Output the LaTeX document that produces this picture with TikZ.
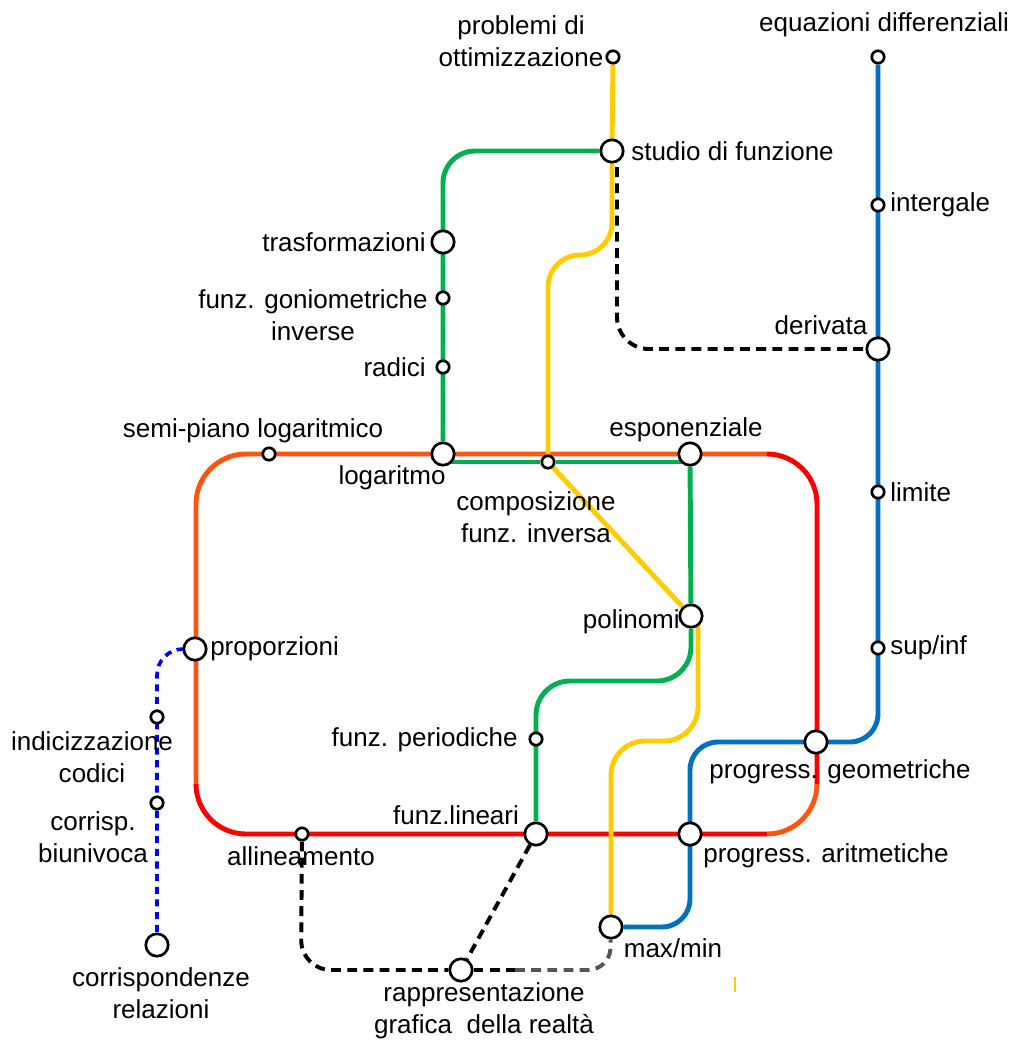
\documentclass[tikz,border=0pt]{standalone}
\usepackage{fontspec}
\setmainfont{Liberation Sans}
\usetikzlibrary{calc}
\usetikzlibrary{backgrounds}
\definecolor{lineorange}{RGB}{255,85,17}
\definecolor{linered}{RGB}{255,0,0}
\definecolor{linegreen}{RGB}{0,176,80}
\definecolor{lineyellow}{RGB}{255,204,0}
\definecolor{lineblue}{RGB}{0,112,192}
\definecolor{dotblue}{RGB}{0,0,255}
\definecolor{linkgray}{RGB}{85,85,85}

\begin{document}
\begin{tikzpicture}[x=0.025cm, y=-0.025cm]
            \tikzstyle{metro line} = [line width=3.5pt]
            \tikzstyle{transfer} = [line width=2.8pt, dash pattern=on 7pt off 4.5pt]
            \tikzstyle{big stop} = [circle, draw=black, fill=white, line width=1.9pt, minimum size=0.56cm, inner sep=0pt]
            \tikzstyle{small stop} = [circle, draw=black, fill=white, line width=1.9pt, minimum size=0.31cm, inner sep=0pt]
            \tikzstyle{stop label} = [font=\fontsize{18.5}{22.5}\selectfont, inner sep=0pt, align=center]

            \useasboundingbox (0,0) rectangle (1020,1042);

            \node[small stop] (ottim) at (613,57) {};
            \node[small stop] (eqdiff) at (878,57) {};
            \node[big stop] (studio) at (612,151) {};
            \node[small stop] (integr) at (878,205) {};
            \node[big stop] (trasf) at (443,242) {};
            \node[small stop] (gonio) at (443,298) {};
            \node[small stop] (radici) at (443,367) {};
            \node[big stop] (deriv) at (878,349) {};
            \node[small stop] (semipiano) at (269,454) {};
            \node[big stop] (logar) at (443,454) {};
            \node[small stop] (compos) at (548,462) {};
            \node[big stop] (espon) at (690,454) {};
            \node[small stop] (limite) at (878,492) {};
            \node[big stop] (polin) at (691,616) {};
            \node[small stop] (supinf) at (878,648) {};
            \node[big stop] (propor) at (195,649) {};
            \node[small stop] (indic) at (157,717) {};
            \node[small stop] (period) at (536,739) {};
            \node[big stop] (geom) at (816,742) {};
            \node[small stop] (corrisp) at (157,803) {};
            \node[small stop] (allin) at (302,834) {};
            \node[big stop] (lineari) at (536,834) {};
            \node[big stop] (aritm) at (690,834) {};
            \node[big stop] (corrrel) at (157,945) {};
            \node[big stop] (rappr) at (461,970) {};
            \node[big stop] (maxmin) at (611,927) {};

            \begin{pgfonlayer}{background}
            \draw[metro line, lineorange, rounded corners=1.25cm] (767,454) -- (196,454) -- (196,785);
            \draw[metro line, linered, rounded corners=1.25cm] (767,454) -- (817,454) -- (817,785);
            \draw[metro line, linered, rounded corners=1.25cm] (196,785) -- (196,834) -- (767,834);
            \draw[metro line, lineorange, rounded corners=1.25cm] (767,834) -- (817,834) -- (817,785);

            \draw[metro line, linegreen, rounded corners=0.8cm] (studio) -- (443,151) -- (logar);
            \draw[metro line, linegreen] ($(logar)+(0,8)$) -- (compos) -- ($(espon)+(0,8)$);
            \draw[metro line, linegreen] (espon) -- (polin);
            \draw[metro line, linegreen, rounded corners=0.85cm] (polin) -- (691,681) -- (536,681) -- (lineari);

            \draw[metro line, lineyellow] (ottim) -- (studio);
            \draw[metro line, lineyellow, rounded corners=0.8cm] (studio) -- (612,255) -- (548,255) -- (compos);
            \draw[metro line, lineyellow] (compos) -- (polin);
            \draw[metro line, lineyellow, rounded corners=0.85cm] ($(polin)+(7,0)$) -- (698,741) -- (611,741) -- (maxmin);

            \draw[metro line, lineblue, rounded corners=0.7cm] (eqdiff) -- (878,742) -- (690,742) -- (690,927) -- (maxmin);

            \draw[transfer, black, rounded corners=0.8cm] ($(studio)+(5,0)$) -- (617,349) -- (deriv);
            \draw[transfer, black, rounded corners=0.75cm] (allin) -- (301,970) -- (rappr);
            \draw[transfer, black] (lineari) -- (rappr);
            \draw[transfer, black] (rappr) -- (515,970);
            \draw[transfer, linkgray, rounded corners=0.55cm] (515,970) -- (610,970) -- (maxmin);
            \draw[line width=2.6pt, dotblue, dash pattern=on 5pt off 4pt, rounded corners=0.65cm] (propor) -- (157,649) -- (corrrel);

            \draw[lineyellow, line width=2pt] (735,977) -- (735,992);
            \end{pgfonlayer}

            \node[stop label] (ottim label) at ($(ottim) + (-92,-16)$) {problemi di\\ottimizzazione};
            \node[stop label] (eqdiff label) at ($(eqdiff) + (6,-32)$) {equazioni differenziali};
            \node[stop label, anchor=west] (studio label) at ($(studio) + (19,0)$) {studio di funzione};
            \node[stop label, anchor=west] (integr label) at ($(integr) + (12,0)$) {intergale};
            \node[stop label, anchor=east] (trasf label) at ($(trasf) + (-17,0)$) {trasformazioni};
            \node[stop label] (gonio label) at ($(gonio) + (-130,17)$) {funz. goniometriche\\inverse};
            \node[stop label, anchor=east] (radici label) at ($(radici) + (-17,0)$) {radici};
            \node[stop label] (deriv label) at ($(deriv) + (-57,-24)$) {derivata};
            \node[stop label] (semipiano label) at ($(semipiano) + (-16,-23)$) {semi-piano logaritmico};
            \node[stop label] (logar label) at ($(logar) + (-51,24)$) {logaritmo};
            \node[stop label] (compos label) at ($(compos) + (-12,55)$) {composizione\\funz. inversa};
            \node[stop label] (espon label) at ($(espon) + (-4,-24)$) {esponenziale};
            \node[stop label, anchor=west] (limite label) at ($(limite) + (12,0)$) {limite};
            \node[stop label, anchor=east] (polin label) at ($(polin) + (-11,6)$) {polinomi};
            \node[stop label, anchor=west] (supinf label) at ($(supinf) + (12,0)$) {sup/inf};
            \node[stop label, anchor=west] (propor label) at ($(propor) + (15,0)$) {proporzioni};
            \node[stop label] (indic label) at ($(indic) + (-65,40)$) {indicizzazione\\codici};
            \node[stop label, anchor=east] (period label) at ($(period) + (-18,1)$) {funz. periodiche};
            \node[stop label] (geom label) at ($(geom) + (24,30)$) {progress. geometriche};
            \node[stop label] (corrisp label) at ($(corrisp) + (-64,34)$) {corrisp.\\biunivoca};
            \node[stop label] (allin label) at ($(allin) + (-1,22)$) {allineamento};
            \node[stop label] (lineari label) at ($(lineari) + (-80,-19)$) {funz.lineari};
            \node[stop label] (aritm label) at ($(aritm) + (136,22)$) {progress. aritmetiche};
            \node[stop label] (corrrel label) at ($(corrrel) + (4,48)$) {corrispondenze\\relazioni};
            \node[stop label] (rappr label) at ($(rappr) + (23,41)$) {rappresentazione\\grafica\ \ della realtà};
            \node[stop label] (maxmin label) at ($(maxmin) + (62,21)$) {max/min};
        \end{tikzpicture}
\end{document}
